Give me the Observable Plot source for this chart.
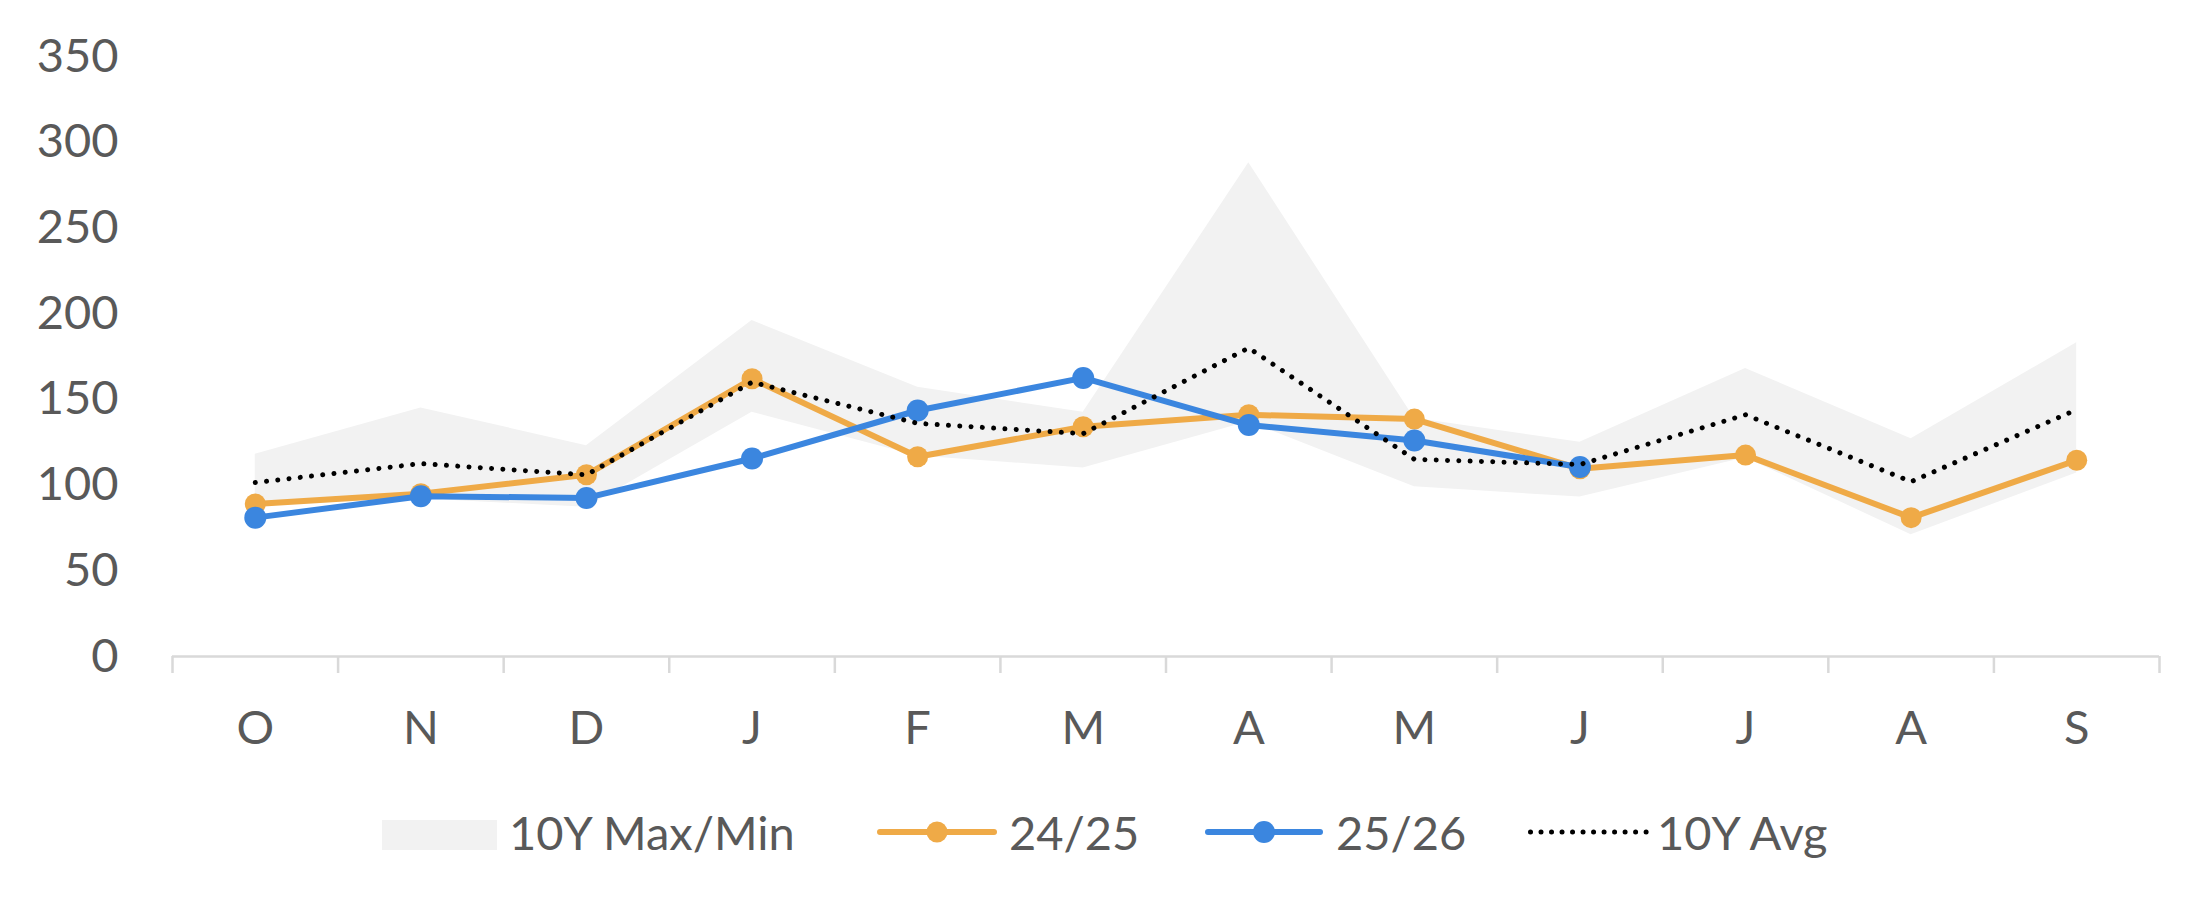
<!DOCTYPE html>
<html>
<head>
<meta charset="utf-8">
<script src="https://cdn.jsdelivr.net/npm/d3@7"></script>
<script src="https://cdn.jsdelivr.net/npm/@observablehq/plot@0.6"></script>
<style>
  html, body { margin: 0; padding: 0; background: #fff; }
  #chart { width: 2208px; }
  #legend { position: relative; width: 2208px; height: 119px; font-family: Lato, sans-serif; font-size: 47px; color: #595959; }
  #legend .lbl { position: absolute; top: 12px; line-height: 60px; white-space: nowrap; }
  #legend svg { position: absolute; overflow: visible; }
</style>
</head>
<body>
<div id="chart"></div>
<div id="legend"></div>
<script>
// ---- data ----
const months = ["O", "N", "D", "J", "F", "M", "A", "M", "J", "J", "A", "S"];
const max10Y = [118, 145, 123, 196, 157, 142.5, 288, 139, 125, 168, 127, 183];
const min10Y = [88, 92, 87, 142.5, 117, 110, 137, 99, 93, 116, 71, 107];
const avg10Y = [101.5, 112.5, 106, 160, 136, 130, 180, 115, 112, 141, 102, 144];
const s2425 = [89, 95, 106, 162, 116.5, 134, 141, 138.5, 109.5, 117.5, 81, 114.5];
const s2526 = [81, 93.5, 92.5, 115.5, 143.5, 162.5, 135, 126, 110.5];
const yTicks = [0, 50, 100, 150, 200, 250, 300, 350];

const ORANGE = "#EFAA47";
const BLUE = "#3B86DF";
const BAND = "#F2F2F2";

const band = months.map((m, i) => ({i, max: max10Y[i], min: min10Y[i], avg: avg10Y[i]}));
const o = s2425.map((v, i) => ({i, v}));
const b = s2526.map((v, i) => ({i, v}));
const cx = d => d.i + 0.5;

const chart = Plot.plot({
  width: 2208,
  height: 790,
  marginLeft: 172,
  marginRight: 49,
  marginTop: 56,
  marginBottom: 134,
  x: {type: "linear", domain: [0, 12]},
  y: {domain: [0, 350]},
  style: {fontFamily: "Lato, sans-serif", fontSize: "47px", color: "#595959", background: "white"},
  marks: [
    Plot.areaY(band, {x: cx, y1: "min", y2: "max", fill: BAND}),
    Plot.line(o, {x: cx, y: "v", stroke: ORANGE, strokeWidth: 6}),
    Plot.dot(o, {x: cx, y: "v", r: 10.5, fill: ORANGE}),
    Plot.line(b, {x: cx, y: "v", stroke: BLUE, strokeWidth: 6}),
    Plot.dot(b, {x: cx, y: "v", r: 11, fill: BLUE}),
    Plot.line(band, {x: cx, y: "avg", stroke: "black", strokeWidth: 5, strokeDasharray: "0.01 11.3", strokeLinecap: "round"}),
    Plot.ruleY([0], {stroke: "#D9D9D9", strokeWidth: 2.5}),
    Plot.axisX({ticks: d3.range(0, 13), tickSize: 17, tickFormat: () => "", stroke: "#D9D9D9", strokeWidth: 2.5, strokeOpacity: 1}),
    Plot.axisX({ticks: d3.range(12).map(i => i + 0.5), tickSize: 0, tickPadding: 54, tickFormat: d => months[Math.floor(d)], fill: "#595959"}),
    Plot.axisY({ticks: yTicks, tickSize: 0, tickPadding: 54, tickFormat: d => String(d), fill: "#595959"})
  ]
});
document.getElementById("chart").appendChild(chart);

// ---- legend ----
const legend = document.getElementById("legend");
const NS = "http://www.w3.org/2000/svg";
function addSvg(left, w, build) {
  const s = document.createElementNS(NS, "svg");
  s.setAttribute("width", w);
  s.setAttribute("height", 40);
  s.style.left = left + "px";
  s.style.top = "22px";
  build(s);
  legend.appendChild(s);
}
function el(s, tag, attrs) {
  const e = document.createElementNS(NS, tag);
  for (const k in attrs) e.setAttribute(k, attrs[k]);
  s.appendChild(e);
}
function addLabel(left, text) {
  const d = document.createElement("span");
  d.className = "lbl";
  d.style.left = left + "px";
  d.textContent = text;
  legend.appendChild(d);
}
addSvg(382, 115, s => el(s, "rect", {x: 0, y: 8, width: 115, height: 30, fill: BAND}));
addLabel(509, "10Y Max/Min");
addSvg(877, 120, s => {
  el(s, "line", {x1: 3, x2: 117, y1: 20, y2: 20, stroke: ORANGE, "stroke-width": 6, "stroke-linecap": "round"});
  el(s, "circle", {cx: 60, cy: 20, r: 10.5, fill: ORANGE});
});
addLabel(1009, "24/25");
addSvg(1205, 118, s => {
  el(s, "line", {x1: 3, x2: 115, y1: 20, y2: 20, stroke: BLUE, "stroke-width": 6, "stroke-linecap": "round"});
  el(s, "circle", {cx: 59, cy: 20, r: 11, fill: BLUE});
});
addLabel(1336, "25/26");
addSvg(1528, 122, s => {
  el(s, "line", {x1: 2.5, x2: 119.5, y1: 20, y2: 20, stroke: "black", "stroke-width": 5, "stroke-dasharray": "0.01 10.5", "stroke-linecap": "round"});
});
addLabel(1657, "10Y Avg");
</script>
</body>
</html>
